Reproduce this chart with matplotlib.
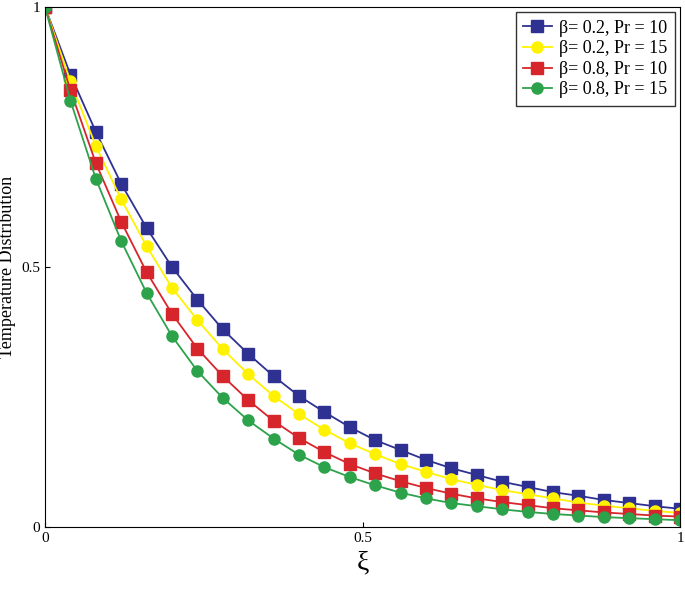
import matplotlib
matplotlib.use("Agg")
import matplotlib.pyplot as plt
import numpy as np

xi = [round(0.04 * i, 2) for i in range(26)]
blue = [1.0, 0.87, 0.76, 0.66, 0.575, 0.50, 0.437, 0.38, 0.333, 0.29, 0.252, 0.221, 0.192, 0.167,
        0.148, 0.129, 0.113, 0.10, 0.087, 0.077, 0.067, 0.06, 0.052, 0.046, 0.04, 0.035]
yellow = [1.0, 0.857, 0.733, 0.63, 0.54, 0.46, 0.398, 0.342, 0.294, 0.252, 0.217, 0.187, 0.161, 0.14,
          0.121, 0.106, 0.092, 0.081, 0.071, 0.063, 0.055, 0.047, 0.041, 0.036, 0.031, 0.027]
red = [1.0, 0.84, 0.70, 0.587, 0.49, 0.41, 0.343, 0.29, 0.244, 0.204, 0.171, 0.144, 0.121, 0.103,
       0.088, 0.075, 0.064, 0.055, 0.048, 0.042, 0.036, 0.032, 0.028, 0.025, 0.022, 0.02]
green = [1.0, 0.82, 0.67, 0.55, 0.45, 0.367, 0.30, 0.248, 0.205, 0.17, 0.139, 0.115, 0.096, 0.08,
         0.066, 0.055, 0.046, 0.04, 0.034, 0.029, 0.025, 0.022, 0.019, 0.017, 0.015, 0.013]
labels = ["β= 0.2, Pr = 10", "β= 0.2, Pr = 15", "β= 0.8, Pr = 10", "β= 0.8, Pr = 15"]

plt.rcParams["font.family"] = "Liberation Serif"
fig = plt.figure(figsize=(6.85, 5.95), dpi=100)
ax = fig.add_axes([0.0657, 0.1143, 0.927, 0.874])
styles = [(blue, "#2e3192", "s"), (yellow, "#fff200", "o"), (red, "#d7262b", "s"), (green, "#2ca24b", "o")]
for (ys, c, m), lab in zip(styles, labels):
    ax.plot(xi, ys, color=c, marker=m, markersize=8, linewidth=1.3, label=lab)
ax.set_xlim(0, 1)
ax.set_ylim(0, 1)
ax.set_xticks([0, 0.5, 1])
ax.set_xticklabels(["0", "0.5", "1"])
ax.set_yticks([0, 0.5, 1])
ax.set_yticklabels(["0", "0.5", "1"])
ax.tick_params(labelsize=11, direction="in")
ax.set_xlabel("ξ", fontsize=20)
ax.set_ylabel("Temperature Distribution", fontsize=13, labelpad=4)
leg = ax.legend(loc="upper right", fontsize=13, fancybox=False, edgecolor="black",
                handlelength=1.6, borderaxespad=0.3, labelspacing=0.2, handletextpad=0.4)
fig.savefig("out.png", dpi=100)
